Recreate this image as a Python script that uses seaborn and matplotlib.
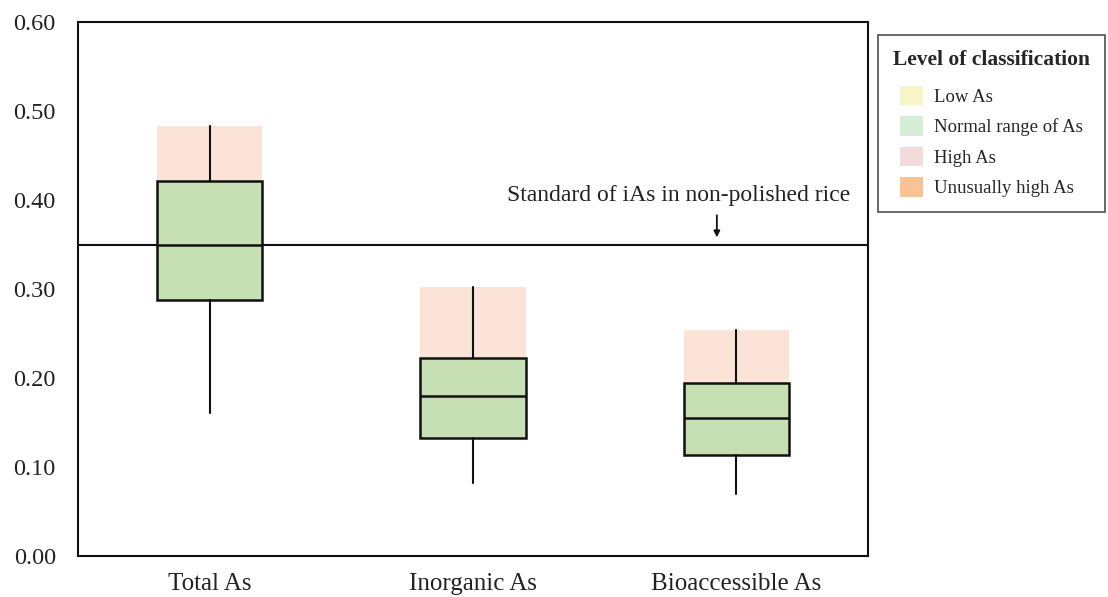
import matplotlib
matplotlib.use("Agg")
import matplotlib.pyplot as plt
from matplotlib.patches import Patch
import seaborn as sns

# Summary statistics of arsenic content (mg/kg)
categories = ["Total As", "Inorganic As", "Bioaccessible As"]
whisker_low = [0.161, 0.082, 0.070]
q1 = [0.288, 0.133, 0.114]
median = [0.349, 0.180, 0.155]
q3 = [0.421, 0.222, 0.194]
whisker_high = [0.483, 0.302, 0.254]
standard_ias = 0.35

yticks = [0.0, 0.1, 0.2, 0.3, 0.4, 0.5, 0.6]
legend_labels = ["Low As", "Normal range of As", "High As", "Unusually high As"]
legend_colors = ["#F7F4C8", "#D6EDD6", "#F3DBDC", "#F9C297"]

sns.set_theme(style="white")
plt.rcParams["font.family"] = ["Liberation Serif", "DejaVu Serif"]

fig = plt.figure(figsize=(11.08, 5.97), dpi=100)
ax = fig.add_axes([0.0704, 0.0687, 0.713, 0.8943])

positions = list(range(len(categories)))
width = 0.4

# Upper range (Q3 to upper whisker) shaded as "High As"
heights = [h - t for h, t in zip(whisker_high, q3)]
sns.barplot(x=positions, y=heights, ax=ax, color="#FBE3D7", width=width,
            saturation=1, native_scale=True, zorder=1)
for patch, base in zip(ax.patches, q3):
    patch.set_y(base)
    patch.set_edgecolor("none")

stats = [
    dict(whislo=lo, q1=a, med=m, q3=b, whishi=hi, fliers=[], label=c)
    for lo, a, m, b, hi, c in zip(whisker_low, q1, median, q3, whisker_high, categories)
]
ax.bxp(stats, positions=positions, widths=width, patch_artist=True,
       showcaps=False, showfliers=False,
       boxprops=dict(facecolor="#C6E0B4", edgecolor="#111111", linewidth=1.8),
       medianprops=dict(color="#111111", linewidth=1.8),
       whiskerprops=dict(color="#111111", linewidth=1.5),
       zorder=3)

ax.axhline(standard_ias, color="#111111", linewidth=1.5, zorder=2)
ax.text(1.78, 0.405, "Standard of iAs in non-polished rice", ha="center",
        va="center", fontsize=17, color="#222222")
ax.annotate("", xy=(1.926, 0.355), xytext=(1.926, 0.386),
            arrowprops=dict(arrowstyle="-|>", color="#111111", lw=1.3,
                            mutation_scale=9))

ax.set_xlim(-0.5, 2.5)
ax.set_ylim(0, 0.6)
ax.set_yticks(yticks)
ax.set_yticklabels([f"{v:.2f}" for v in yticks])
ax.set_xticks(positions)
ax.set_xticklabels(categories)
ax.tick_params(axis="y", length=0, labelsize=17.5, colors="#222222", pad=16)
ax.tick_params(axis="x", length=0, labelsize=18, colors="#222222", pad=12)
ax.set_xlabel("")
ax.set_ylabel("")
for s in ax.spines.values():
    s.set_color("#111111")
    s.set_linewidth(1.5)

handles = [Patch(facecolor=c, edgecolor="none") for c in legend_colors]
leg = fig.legend(handles, legend_labels, title="Level of classification",
                 loc="upper left", bbox_to_anchor=(0.7924, 0.9414),
                 borderaxespad=0,
                 fontsize=13.5, title_fontproperties=dict(weight="bold", size=15.5),
                 frameon=True, fancybox=False, edgecolor="#222222",
                 handlelength=1.2, handleheight=1.2, labelspacing=0.56,
                 borderpad=0.8, handletextpad=0.6)
leg.get_frame().set_linewidth(1.2)
# extra gap between the title and the first entry
leg._legend_box.sep += 4

fig.savefig("out.png", dpi=100)
